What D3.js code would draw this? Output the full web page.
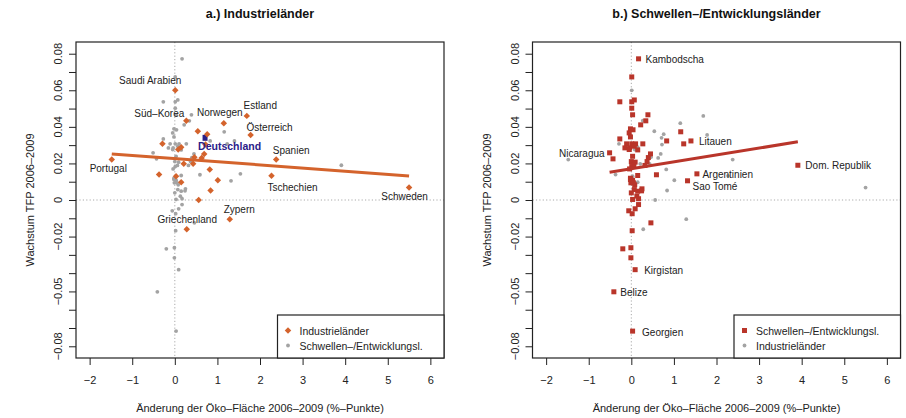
<!DOCTYPE html>
<html>
<head>
<meta charset="utf-8">
<script src="https://cdn.jsdelivr.net/npm/d3@7"></script>
<style>
  html, body { margin: 0; padding: 0; background: #fff; }
  svg { display: block; font-family: "Liberation Sans", Arial, Helvetica, sans-serif; }
</style>
</head>
<body>
<svg id="chart" width="906" height="418"></svg>
<script>
// Industrial countries: change of eco-area (x, %-points) vs. TFP growth (y)
const industrialNames = ["Saudi Arabien", "Süd–Korea", "Norwegen", "Estland", "Österreich", "Deutschland",
  "Portugal", "Spanien", "Tschechien", "Schweden", "Zypern", "Griechenland",
  "", "", "", "", "", "", "", "", "", "", "", "", "", "", "", "", "", ""];
const industrialX = [0.01, 0.27, 1.15, 1.69, 1.78, 0.71,
  -1.48, 2.38, 2.27, 5.50, 1.29, 0.28,
  0.54, 0.76, -0.29, 0.15, 0.08, 0.72, 0.69, 0.63, 0.46, 0.43, 0.21, 0.82, -0.37, 0.03, 1.01, 0.15, 0.84, 0.56];
const industrialY = [0.0600, 0.0434, 0.0420, 0.0460, 0.0356, 0.0340,
  0.0221, 0.0221, 0.0132, 0.0068, -0.0105, -0.0160,
  0.0376, 0.0360, 0.0307, 0.0289, 0.0276, 0.0303, 0.0252, 0.0230, 0.0234, 0.0198, 0.0198, 0.0167, 0.0139, 0.0130, 0.0108, 0.0097, 0.0052, 0.0000];

// Emerging / developing countries
const emergingNames = ["Kambodscha", "Litauen", "Nicaragua", "Argentinien", "Sao Tomé", "Dom. Republik",
  "Kirgistan", "Belize", "Georgien"];
const emergingX = [0.17, 1.40, -0.51, 1.54, 1.32, 3.91, 0.09, -0.41, 0.03,
  0.01, -0.27, 0.01, 0.07, 0.01, 0.03, 0.39, 0.34, 0.22, -0.02, 0.04, 1.16, -0.05, -0.02, -0.27,
  0.83, 1.23, -0.11, 0.01, 0.10, 0.27, -0.15, -0.04, 0.07, 0.15, -0.05, -0.43, 0.03, 0.45, 0.40,
  0.37, 0.00, 0.09, 0.06, 0.32, 0.01, -0.04, 0.15, 0.59, -0.02, 0.03, -0.01, 0.08, 0.25,
  -0.02, 0.05, 0.07, 0.15, 0.00, 0.13, 0.03, 0.17, 0.24,
  0.17, 0.09, -0.06, 0.02, 0.46, 0.02, -0.20, -0.01, -0.01];
const emergingY = [0.0772, 0.0323, 0.0258, 0.0143, 0.0105, 0.0190, -0.0381, -0.0502, -0.0717,
  0.0673, 0.0537, 0.0537, 0.0547, 0.0502, 0.0466, 0.0466, 0.0433, 0.0411, 0.0389, 0.0384, 0.0373, 0.0367, 0.0345, 0.0334,
  0.0323, 0.0307, 0.0307, 0.0307, 0.0307, 0.0307, 0.0285, 0.0285, 0.0294, 0.0274, 0.0276, 0.0225, 0.0239, 0.0252, 0.0232,
  0.0210, 0.0210, 0.0207, 0.0189, 0.0189, 0.0183, 0.0170, 0.0134, 0.0138, 0.0119, 0.0108, 0.0094, 0.0083, 0.0061,
  0.0112, 0.0094, 0.0057, 0.0048, 0.0039, 0.0021, 0.0003, 0.0007, 0.0050,
  -0.0025, -0.0048, -0.0059, -0.0075, -0.0125, -0.0168, -0.0267, -0.0261, -0.0316];

// Linear fits (intercept, slope) per group
const industrialFit = [0.02265, -0.00172];
const emergingFit = [0.01712, 0.003756];

// Axis ticks
const xTicks = [-2, -1, 0, 1, 2, 3, 4, 5, 6];
const yTicks = [-0.08, -0.07, -0.06, -0.05, -0.04, -0.03, -0.02, -0.01, 0, 0.01, 0.02, 0.03, 0.04, 0.05, 0.06, 0.07, 0.08];
const yTickLabels = [0.08, 0.06, 0.04, 0.02, 0, -0.02, -0.05, -0.08];

const titles = ["a.) Industrieländer", "b.) Schwellen–/Entwicklungsländer"];
const xTitle = "Änderung der Öko–Fläche 2006–2009 (%–Punkte)";
const yTitle = "Wachstum TFP 2006–2009";

// label placement (anchor, dx, dy) relative to the point
const labelPlace = {
  "Saudi Arabien": ["middle", -25, -6],
  "Süd–Korea": ["middle", -27, -4],
  "Norwegen": ["middle", -4, -7],
  "Estland": ["middle", 13.5, -7],
  "Österreich": ["middle", 19, -4],
  "Deutschland": ["start", -7, 12],
  "Portugal": ["middle", -3.5, 12],
  "Spanien": ["middle", 15, -6],
  "Tschechien": ["middle", 21, 15],
  "Schweden": ["middle", -4.5, 12],
  "Zypern": ["middle", 9.5, -6.5],
  "Griechenland": ["middle", 0.5, -6],
  "Kambodscha": ["start", 7, 4.5],
  "Litauen": ["start", 8, 4.5],
  "Nicaragua": ["end", -5, 4],
  "Argentinien": ["start", 5.5, 4],
  "Sao Tomé": ["start", 5, 9],
  "Dom. Republik": ["start", 7.5, 4],
  "Kirgistan": ["start", 9, 4.5],
  "Belize": ["start", 6.5, 4],
  "Georgien": ["start", 9.5, 5]
};

const colOrange = "#d4632c";
const colRed = "#b9352a";
const colGray = "#a3a3a3";
const colBlue = "#2b2088";

const industrial = industrialX.map((x, i) => ({ x, y: industrialY[i], name: industrialNames[i] || "" }));
const emerging = emergingX.map((x, i) => ({ x, y: emergingY[i], name: emergingNames[i] || "" }));

const svg = d3.select("#chart");
const plotTop = 42, plotBottom = 358;

const panels = [
  { left: 76, right: 444, main: industrial, other: emerging, fit: industrialFit,
    kind: "diamond", color: colOrange, title: titles[0],
    legend: [["diamond", colOrange, "Industrieländer"], ["dot", colGray, "Schwellen–/Entwicklungsl."]] },
  { left: 532.5, right: 900.5, main: emerging, other: industrial, fit: emergingFit,
    kind: "square", color: colRed, title: titles[1],
    legend: [["square", colRed, "Schwellen–/Entwicklungsl."], ["dot", colGray, "Industrieländer"]] }
];

function drawMark(g, kind, color, cx, cy) {
  if (kind === "diamond") {
    g.append("path")
      .attr("d", d3.symbol().type(d3.symbolSquare).size(21)())
      .attr("transform", `translate(${cx},${cy}) rotate(45)`)
      .attr("fill", color);
  } else if (kind === "square") {
    g.append("rect").attr("x", cx - 2.5).attr("y", cy - 2.5).attr("width", 5).attr("height", 5).attr("fill", color);
  } else {
    g.append("circle").attr("cx", cx).attr("cy", cy).attr("r", 1.9).attr("fill", color);
  }
}

panels.forEach(p => {
  const x = d3.scaleLinear().domain([-2.32, 6.32]).range([p.left, p.right]);
  const y = d3.scaleLinear().domain([-0.0864, 0.0864]).range([plotBottom, plotTop]);
  const g = svg.append("g");
  const cx = (p.left + p.right) / 2;

  // title
  svg.append("text").attr("x", cx).attr("y", 18).attr("text-anchor", "middle")
    .attr("font-size", 12.5).attr("font-weight", "bold").attr("fill", "#111").text(p.title);

  // zero reference lines
  g.append("line").attr("x1", x(0)).attr("x2", x(0)).attr("y1", plotTop).attr("y2", plotBottom)
    .attr("stroke", "#aaa").attr("stroke-width", 1).attr("stroke-dasharray", "1.2,2.2");
  g.append("line").attr("x1", p.left).attr("x2", p.right).attr("y1", y(0)).attr("y2", y(0))
    .attr("stroke", "#aaa").attr("stroke-width", 1).attr("stroke-dasharray", "1.2,2.2");

  // other group in gray
  const gOther = g.append("g");
  p.other.forEach(d => drawMark(gOther, "dot", colGray, x(d.x), y(d.y)));

  // fit line over the group's x range
  const ext = d3.extent(p.main, d => d.x);
  g.append("line")
    .attr("x1", x(ext[0])).attr("y1", y(p.fit[0] + p.fit[1] * ext[0]))
    .attr("x2", x(ext[1])).attr("y2", y(p.fit[0] + p.fit[1] * ext[1]))
    .attr("stroke", p.color).attr("stroke-width", 3);

  // main group
  const gMain = g.append("g");
  p.main.forEach(d => {
    if (d.name === "Deutschland") {
      gMain.append("rect").attr("x", x(d.x) - 2.5).attr("y", y(d.y) - 3).attr("width", 5).attr("height", 6).attr("fill", colBlue);
    } else {
      drawMark(gMain, p.kind, p.color, x(d.x), y(d.y));
    }
  });

  // point labels
  p.main.filter(d => d.name && labelPlace[d.name]).forEach(d => {
    const [anchor, dx, dy] = labelPlace[d.name];
    const isDe = d.name === "Deutschland";
    g.append("text").attr("x", x(d.x) + dx).attr("y", y(d.y) + dy)
      .attr("text-anchor", anchor).attr("font-size", isDe ? 10.5 : 10)
      .attr("font-weight", isDe ? "bold" : "normal")
      .attr("fill", isDe ? colBlue : "#222").text(d.name);
  });

  // box
  g.append("rect").attr("x", p.left).attr("y", plotTop).attr("width", p.right - p.left).attr("height", plotBottom - plotTop)
    .attr("fill", "none").attr("stroke", "#222").attr("stroke-width", 1.2);

  // x axis
  const xa = g.append("g").attr("transform", `translate(0,${plotBottom})`)
    .call(d3.axisBottom(x).tickValues(xTicks).tickSize(7).tickPadding(11)
      .tickFormat(d => d < 0 ? "−" + Math.abs(d) : String(d)));
  xa.select(".domain").remove();
  xa.selectAll("line").attr("stroke", "#222");
  xa.selectAll("text").attr("font-size", 11).attr("fill", "#222");
  xa.attr("font-family", null);

  // y axis
  const ya = g.append("g").attr("transform", `translate(${p.left},0)`)
    .call(d3.axisLeft(y).tickValues(yTicks).tickSize(7).tickFormat(""));
  ya.select(".domain").remove();
  ya.selectAll("line").attr("stroke", "#222");
  yTickLabels.forEach(v => {
    const lbl = v === 0 ? "0" : (v < 0 ? "−" : "") + Math.abs(v).toFixed(2);
    g.append("text").attr("transform", `translate(${p.left - 14},${y(v)}) rotate(-90)`)
      .attr("text-anchor", "middle").attr("font-size", 11).attr("fill", "#222").text(lbl);
  });

  // axis titles
  g.append("text").attr("x", cx).attr("y", 412).attr("text-anchor", "middle")
    .attr("font-size", 11).attr("fill", "#222").text(xTitle);
  g.append("text").attr("transform", `translate(${p.left - 42},${(plotTop + plotBottom) / 2}) rotate(-90)`)
    .attr("text-anchor", "middle").attr("font-size", 11).attr("fill", "#222").text(yTitle);

  // legend
  const lx = p.right - 166.5, ly = 315;
  const lg = g.append("g");
  lg.append("rect").attr("x", lx).attr("y", ly).attr("width", p.right - lx).attr("height", plotBottom - ly)
    .attr("fill", "#fff").attr("stroke", "#222").attr("stroke-width", 1.2);
  p.legend.forEach((e, i) => {
    const ey = ly + 15.5 + i * 15;
    drawMark(lg, e[0], e[1], lx + 10.5, ey);
    lg.append("text").attr("x", lx + 22).attr("y", ey + 4).attr("font-size", 10.5).attr("fill", "#222").text(e[2]);
  });
});
</script>
</body>
</html>
